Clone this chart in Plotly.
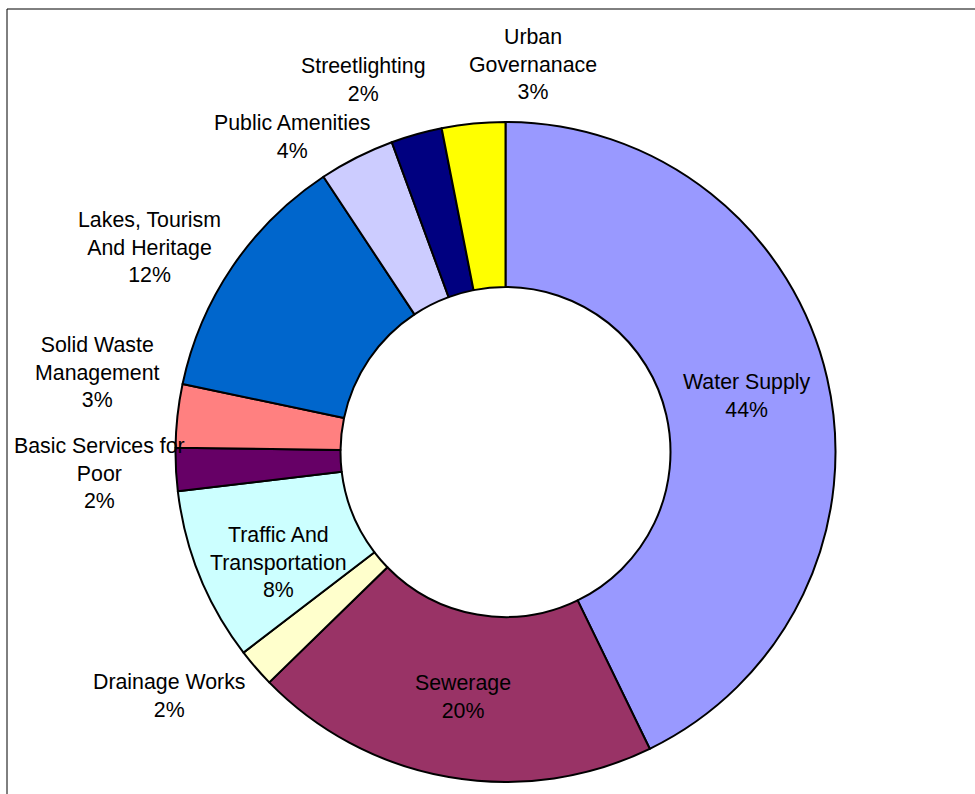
import math
import plotly.graph_objects as go

# ---------------- data ----------------
categories = [
    "Water Supply", "Sewerage", "Drainage Works", "Traffic And Transportation",
    "Basic Services for Poor", "Solid Waste Management", "Lakes, Tourism And Heritage",
    "Public Amenities", "Streetlighting", "Urban Governanace",
]
label_lines = [
    "Water Supply", "Sewerage", "Drainage Works", "Traffic And<br>Transportation",
    "Basic Services for<br>Poor", "Solid Waste<br>Management", "Lakes, Tourism<br>And Heritage",
    "Public Amenities", "Streetlighting", "Urban<br>Governanace",
]
values = [42.8, 19.9, 1.9, 8.5, 2.1, 3.1, 12.4, 3.7, 2.5, 3.1]
pct_labels = ["44%", "20%", "2%", "8%", "2%", "3%", "12%", "4%", "2%", "3%"]

# ---------------- style ----------------
colors = ["#9999FF", "#993366", "#FFFFCC", "#CCFFFF", "#660066",
          "#FF8080", "#0066CC", "#CCCCFF", "#000080", "#FFFF00"]
# (radius factor, xshift px, yshift px) for each label
label_style = [
    (0.75, 0, 0), (0.75, 0, -1), (1.25, -24, 26), (0.75, 2, -17), (1.25, 6, 1),
    (1.25, 2, 34), (1.25, -15, -27), (1.25, -27, -53), (1.25, -31, -25), (1.25, 68, -23),
]

W, H = 975, 794
cx, cy, R = 505.5, 452.0, 330.0
FONT = "Liberation Sans, Arial, sans-serif"
FS = 21.33

fig = go.Figure(go.Pie(
    labels=categories,
    values=values,
    sort=False,
    direction="clockwise",
    rotation=0,
    hole=0.5,
    textinfo="none",
    marker=dict(colors=colors, line=dict(color="black", width=2)),
    domain=dict(x=[(cx - R) / W, (cx + R) / W], y=[1 - (cy + R) / H, 1 - (cy - R) / H]),
    hoverinfo="label+percent",
    showlegend=False,
))

total = sum(values)
annotations = []
acc = 0.0
for name, v, pct, (rf, xs, ys) in zip(label_lines, values, pct_labels, label_style):
    mid = (acc + v / 2) / total * 2 * math.pi
    acc += v
    px = cx + rf * R * math.sin(mid)
    py = cy - rf * R * math.cos(mid)
    annotations.append(dict(
        x=px / W, y=1 - py / H, xref="paper", yref="paper",
        text=f"{name}<br>{pct}", showarrow=False,
        xanchor="center", yanchor="middle", align="center",
        xshift=xs, yshift=ys,
        font=dict(family=FONT, size=FS, color="black"),
    ))

fig.update_layout(
    width=W, height=H,
    margin=dict(l=0, r=0, t=0, b=0),
    paper_bgcolor="white",
    plot_bgcolor="white",
    annotations=annotations,
    shapes=[dict(type="rect", xref="paper", yref="paper",
                 x0=7 / W, x1=1.05, y0=-0.05, y1=1 - 9 / H,
                 line=dict(color="black", width=1), fillcolor="rgba(0,0,0,0)", layer="below")],
)

fig.write_html("out.html", config={"displayModeBar": False},
               post_script="document.body.style.margin='0';document.body.style.overflow='hidden';")
